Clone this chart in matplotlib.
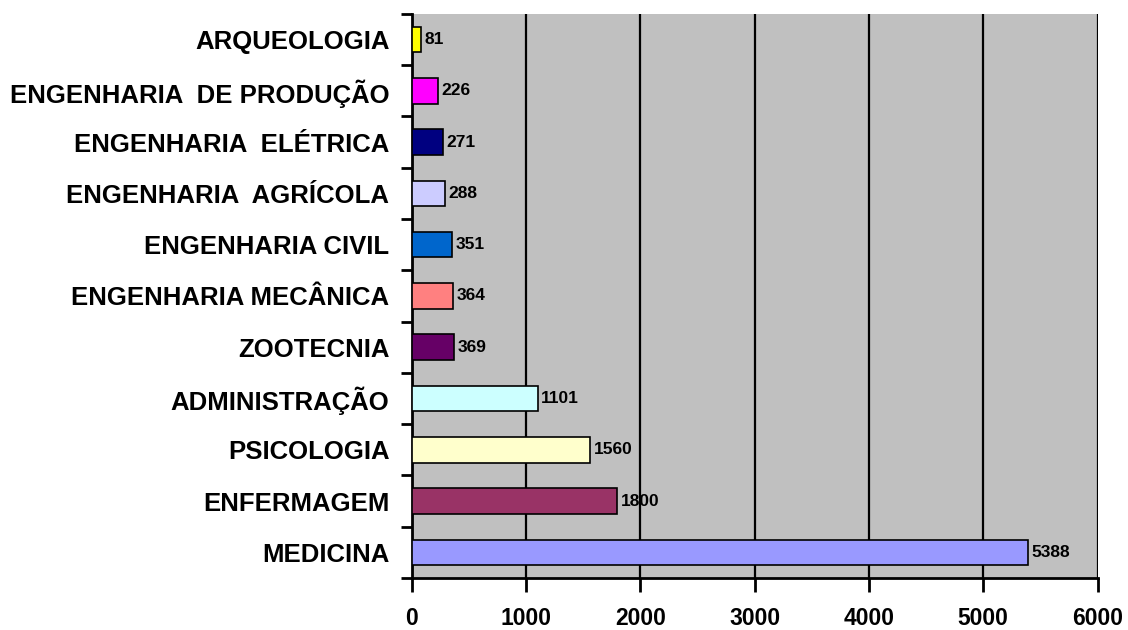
import numpy as np
import matplotlib
matplotlib.use('Agg')
import matplotlib.pyplot as plt

# ==============================================================================
# Data (bottom to top)
courses = ['MEDICINA', 'ENFERMAGEM', 'PSICOLOGIA', 'ADMINISTRAÇÃO', 'ZOOTECNIA',
           'ENGENHARIA MECÂNICA', 'ENGENHARIA CIVIL', 'ENGENHARIA  AGRÍCOLA',
           'ENGENHARIA  ELÉTRICA', 'ENGENHARIA  DE PRODUÇÃO', 'ARQUEOLOGIA']
values = [5388, 1800, 1560, 1101, 369, 364, 351, 288, 271, 226, 81]
bar_colors = ['#9999FF', '#993366', '#FFFFCC', '#CCFFFF', '#660066', '#FF8080',
              '#0066CC', '#CCCCFF', '#000080', '#FF00FF', '#FFFF00']
xticks = [0, 1000, 2000, 3000, 4000, 5000, 6000]

# ==============================================================================
plt.rcParams['font.family'] = ['Liberation Sans', 'DejaVu Sans']

LBF = 18.5  # category label size
TS = 16.5   # x tick label size
VF = 12.5   # value label size

fig = plt.figure(figsize=(11.28, 6.30), dpi=100)
ax = fig.add_axes([0.365, 0.0825, 0.608, 0.8955])
ax.set_facecolor('#C0C0C0')

y = np.arange(len(courses))
ax.barh(y, values, height=0.5, color=bar_colors, edgecolor='black', linewidth=1.2, zorder=3)
for yi, v in zip(y, values):
    ax.text(v + 30, yi, str(v), va='center', ha='left', fontsize=VF, fontweight='bold', zorder=4)

ax.set_xlim(0, 6000)
ax.set_ylim(-0.5, len(courses) - 0.5)
ax.set_xticks(xticks)
ax.set_xticklabels([str(t) for t in xticks], fontsize=TS, fontweight='bold')
ax.set_yticks(y)
ax.set_yticklabels(courses, fontsize=LBF, fontweight='bold')
ax.set_yticks(np.arange(-0.5, len(courses)), minor=True)
ax.tick_params(axis='y', which='major', length=0, pad=16)
ax.tick_params(axis='y', which='minor', length=8, width=2)
ax.tick_params(axis='x', which='major', length=10, width=2, pad=11)
ax.grid(axis='x', color='black', linewidth=1.6, zorder=1)

for s in ['top', 'right']:
    ax.spines[s].set_visible(False)
ax.spines['left'].set_linewidth(2)
ax.spines['bottom'].set_linewidth(2)

fig.savefig('out.png', dpi=100)
